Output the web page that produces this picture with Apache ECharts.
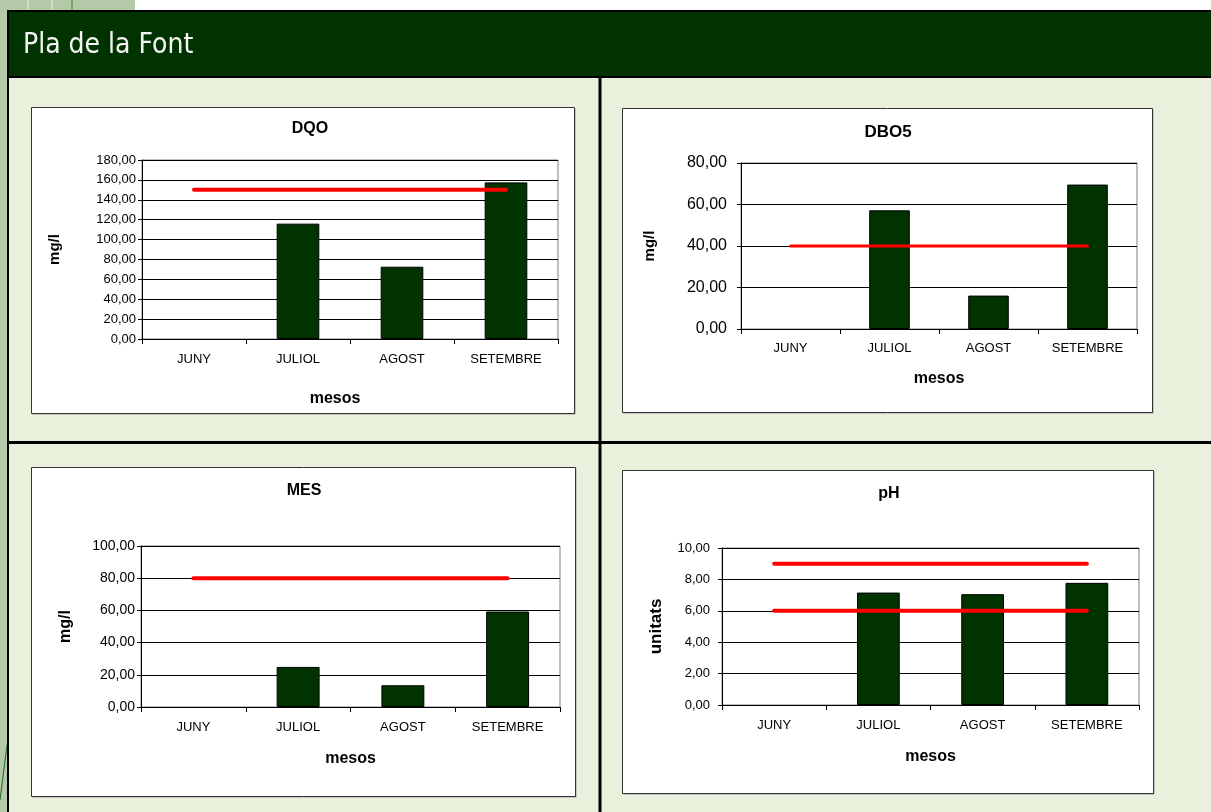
<!DOCTYPE html>
<html>
<head>
<meta charset="utf-8">
<script src="https://cdn.jsdelivr.net/npm/echarts@6/dist/echarts.min.js"></script>
<style>
html,body{margin:0;padding:0;background:#fff;}
#c{width:1211px;height:812px;}
</style>
</head>
<body>
<div id="c"></div>
<script>
// ---- data ----
var pageTitle = 'Pla de la Font';
var categories = ['JUNY', 'JULIOL', 'AGOST', 'SETEMBRE'];
var chartTitles = ['DQO', 'DBO5', 'MES', 'pH'];
var yNames = ['mg/l', 'mg/l', 'mg/l', 'unitats'];
var xName = 'mesos';
var dqoValues = [null, 116.0, 72.7, 157.5];
var dqoLimit = [150, 150, 150, 150];
var dbo5Values = [null, 57.2, 16.1, 69.6];
var dbo5Limit = [40, 40, 40, 40];
var mesValues = [null, 24.9, 13.5, 59.3];
var mesLimit = [80, 80, 80, 80];
var phValues = [null, 7.16, 7.06, 7.78];
var phMaxLimit = [9, 9, 9, 9];
var phMinLimit = [6, 6, 6, 6];
var yMax = [180, 80, 100, 10];
var yInterval = [20, 20, 20, 2];

// ---- layout ----
var grids = [
  {left: 142, top: 160, width: 416, height: 179},
  {left: 741, top: 163, width: 396, height: 166},
  {left: 141, top: 546, width: 419, height: 161},
  {left: 722, top: 548, width: 417, height: 157}
];
var boxes = [
  {x: 31, y: 107, w: 543, h: 306},
  {x: 622, y: 108, w: 530, h: 304},
  {x: 31, y: 467, w: 544, h: 329},
  {x: 622, y: 470, w: 531, h: 323}
];
var titlePos = [[310, 121], [888, 124], [304, 483], [889, 486]];
var titleSize = [16, 17, 16, 16];
var yLabelSize = [13, 16, 14, 13];
var yLabelMargin = [6, 14, 6, 12];
var yNameSize = [15, 15, 16, 17];
var yNameGap = [80, 84, 67, 57];
var xNameGap = [52, 42, 44, 44];
var xNamePad = [[0, 30, 0, 0], 0, 0, 0];
var FONT = 'Liberation Sans, Arial, sans-serif';

var chart = echarts.init(document.getElementById('c'), null, {renderer: 'canvas'});

var graphic = [
  // page decorations
  {type: 'rect', shape: {x: 0, y: 0, width: 8, height: 812}, style: {fill: '#b3c9a7'}, z: -10},
  {type: 'rect', shape: {x: 0, y: 0, width: 135, height: 10}, style: {fill: '#b3c9a7'}, z: -10},
  {type: 'line', shape: {x1: 28, y1: 0, x2: 28, y2: 10}, style: {stroke: '#e8f0e0', lineWidth: 1}, z: -9},
  {type: 'line', shape: {x1: 52, y1: 0, x2: 52, y2: 10}, style: {stroke: '#e8f0e0', lineWidth: 1}, z: -9},
  {type: 'line', shape: {x1: 72, y1: 0, x2: 72, y2: 10}, style: {stroke: '#4a7a3a', lineWidth: 1}, z: -9},
  {type: 'line', shape: {x1: 7, y1: 745, x2: 0, y2: 800}, style: {stroke: '#1f6a1f', lineWidth: 1}, z: -9},
  // body
  {type: 'rect', shape: {x: 8, y: 77, width: 1210, height: 740}, style: {fill: '#e9f0dc', stroke: '#000', lineWidth: 2}, z: -8},
  // header
  {type: 'rect', shape: {x: 8, y: 11, width: 1210, height: 66}, style: {fill: '#003300', stroke: '#000', lineWidth: 2}, z: -7},
  {type: 'text', x: 23, y: 46, style: {text: pageTitle, fill: '#f4f4f4', font: '28px "DejaVu Sans Condensed", "DejaVu Sans", sans-serif', textVerticalAlign: 'middle', verticalAlign: 'middle'}, z: -6},
  // dividers
  {type: 'line', shape: {x1: 600, y1: 78, x2: 600, y2: 812}, style: {stroke: '#000', lineWidth: 3}, z: -7},
  {type: 'line', shape: {x1: 8, y1: 442.5, x2: 1211, y2: 442.5}, style: {stroke: '#000', lineWidth: 3}, z: -7}
];
boxes.forEach(function (b) {
  graphic.push({type: 'rect', shape: {x: b.x + 1.5, y: b.y + 1.5, width: b.w, height: b.h}, style: {fill: '#9a9a9a'}, z: -6});
  graphic.push({type: 'rect', shape: {x: b.x + 0.5, y: b.y + 0.5, width: b.w, height: b.h}, style: {fill: '#fff', stroke: '#333', lineWidth: 1}, z: -5});
});

function fmt(v) { return v.toFixed(2).replace('.', ','); }

var option = {
  animation: false,
  graphic: graphic,
  title: chartTitles.map(function (t, i) {
    return {text: t, left: titlePos[i][0], top: titlePos[i][1], textAlign: 'center', padding: 0,
      textStyle: {fontFamily: FONT, fontWeight: 'bold', fontSize: titleSize[i], color: '#000'}};
  }),
  grid: grids.map(function (g) {
    return {left: g.left, top: g.top, width: g.width, height: g.height, show: true,
      borderColor: '#808080', borderWidth: 1, backgroundColor: 'transparent', containLabel: false};
  }),
  xAxis: grids.map(function (g, i) {
    return {type: 'category', gridIndex: i, data: categories, boundaryGap: true,
      name: xName, nameLocation: 'middle', nameGap: xNameGap[i],
      nameTextStyle: {fontFamily: FONT, fontWeight: 'bold', fontSize: 16, color: '#000', padding: xNamePad[i]},
      axisLine: {show: true, lineStyle: {color: '#000', width: 1}},
      axisTick: {show: true, length: 5, alignWithLabel: false, lineStyle: {color: '#000'}},
      axisLabel: {fontFamily: FONT, fontSize: 13, color: '#000', margin: i === 1 ? 13 : 14, interval: 0},
      splitLine: {show: false}};
  }),
  yAxis: grids.map(function (g, i) {
    return {type: 'value', gridIndex: i, min: 0, max: yMax[i], interval: yInterval[i],
      name: yNames[i], nameLocation: 'middle', nameGap: yNameGap[i],
      nameTextStyle: {fontFamily: FONT, fontWeight: 'bold', fontSize: yNameSize[i], color: '#000'},
      axisLine: {show: true, lineStyle: {color: '#000', width: 1}},
      axisTick: {show: true, length: 4, lineStyle: {color: '#000'}},
      axisLabel: {fontFamily: FONT, fontSize: yLabelSize[i], color: '#000', margin: yLabelMargin[i], formatter: fmt},
      splitLine: {show: true, lineStyle: {color: '#000', width: 1}}};
  }),
  series: []
};

var barSets = [dqoValues, dbo5Values, mesValues, phValues];
var lineSets = [[dqoLimit], [dbo5Limit], [mesLimit], [phMaxLimit, phMinLimit]];
var lineWidths = [4, 3, 4, 4];
barSets.forEach(function (vals, i) {
  option.series.push({type: 'bar', xAxisIndex: i, yAxisIndex: i, data: vals, barWidth: '41%',
    itemStyle: {color: '#003300', borderColor: '#000', borderWidth: 1}, z: 2});
  lineSets[i].forEach(function (lv) {
    option.series.push({type: 'line', xAxisIndex: i, yAxisIndex: i, data: lv, symbol: 'none',
      lineStyle: {color: '#ff0000', width: lineWidths[i], cap: 'round'}, z: 3});
  });
});

chart.setOption(option);
</script>
</body>
</html>
